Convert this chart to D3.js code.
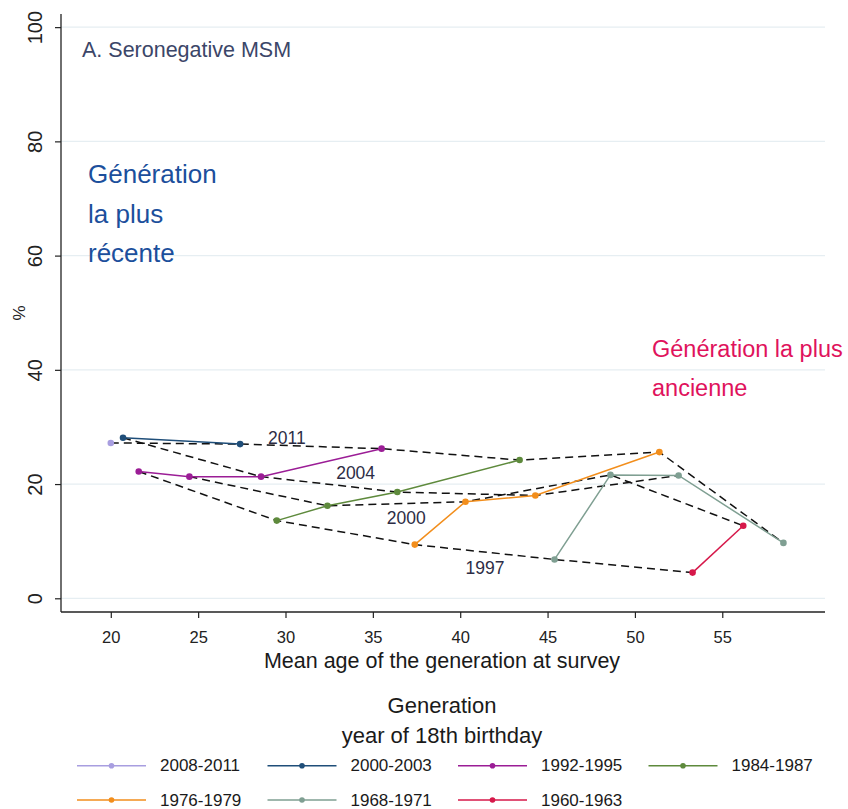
<!DOCTYPE html>
<html>
<head>
<meta charset="utf-8">
<script src="https://cdn.jsdelivr.net/npm/d3@7"></script>
<style>
  body { margin: 0; background: #fff; }
  svg { font-family: "Liberation Sans", Arial, sans-serif; }
</style>
</head>
<body>
<svg id="chart" width="848" height="809"></svg>
<script>
// generations (year of 18th birthday)
const generations = ["2008-2011", "2000-2003", "1992-1995", "1984-1987", "1976-1979", "1968-1971", "1960-1963"];
const genColors = ["#a89ee0", "#1f4e79", "#9b1d96", "#5e8a3c", "#f28e1c", "#7f9f92", "#d6184a"];
// survey year, mean age and % for each generation
const genSurveys = [
    [2011],
    [2004, 2011],
    [1997, 2000, 2004, 2011],
    [1997, 2000, 2004, 2011],
    [1997, 2000, 2004, 2011],
    [1997, 2000, 2004, 2011],
    [1997, 2000]
];
const genAges = [
    [20.0],
    [20.7, 27.4],
    [21.6, 24.5, 28.6, 35.5],
    [29.5, 32.4, 36.4, 43.4],
    [37.4, 40.3, 44.3, 51.4],
    [45.4, 48.6, 52.5, 58.5],
    [53.3, 56.2]
];
const genValues = [
    [27.2],
    [28.1, 27.0],
    [22.2, 21.3, 21.3, 26.2],
    [13.6, 16.2, 18.6, 24.2],
    [9.4, 16.9, 18.0, 25.6],
    [6.8, 21.6, 21.5, 9.7],
    [4.5, 12.7]
];
const surveyYears = [2011, 2004, 2000, 1997];
const xTicks = [20, 25, 30, 35, 40, 45, 50, 55];
const yTicks = [0, 20, 40, 60, 80, 100];

const svg = d3.select("#chart");
const plotLeft = 61, plotRight = 825, plotTop = 14, plotBottom = 612;

const x = d3.scaleLinear().domain([17.15, 60.88]).range([plotLeft, plotRight]);
const y = d3.scaleLinear().domain([-2.4, 102.3]).range([plotBottom, plotTop]);

// gridlines
svg.append("g").selectAll("line")
    .data(yTicks)
    .join("line")
    .attr("x1", plotLeft).attr("x2", plotRight)
    .attr("y1", d => y(d)).attr("y2", d => y(d))
    .attr("stroke", "#e6eef2")
    .attr("stroke-width", 1.2);

// axes
const yAxis = svg.append("g")
    .attr("transform", `translate(${plotLeft},0)`)
    .call(d3.axisLeft(y).tickValues(yTicks).tickSize(6).tickSizeOuter(0));
yAxis.select(".domain").attr("d", `M0,${plotTop}V${plotBottom}`).attr("stroke", "#222").attr("stroke-width", 1.3);
yAxis.selectAll(".tick line").attr("stroke", "#222").attr("stroke-width", 1.2);
yAxis.selectAll(".tick text")
    .attr("x", 0).attr("y", 0).attr("dy", 0)
    .attr("transform", "translate(-19,0) rotate(-90)")
    .attr("text-anchor", "middle")
    .style("font-size", "20px")
    .style("fill", "#222");

const xAxis = svg.append("g")
    .attr("transform", `translate(0,${plotBottom})`)
    .call(d3.axisBottom(x).tickValues(xTicks).tickSize(6).tickSizeOuter(0));
xAxis.select(".domain").attr("d", `M${plotLeft},0H${plotRight}`).attr("stroke", "#222").attr("stroke-width", 1.3);
xAxis.selectAll(".tick line").attr("stroke", "#222").attr("stroke-width", 1.2);
xAxis.selectAll(".tick text")
    .attr("y", 31).attr("dy", 0)
    .style("font-size", "16.5px")
    .style("fill", "#222");

svg.append("text")
    .attr("x", 442).attr("y", 668)
    .attr("text-anchor", "middle")
    .style("font-size", "21.5px")
    .style("fill", "#1a1a1a")
    .text("Mean age of the generation at survey");

svg.append("text")
    .attr("transform", "translate(25,313) rotate(-90)")
    .attr("text-anchor", "middle")
    .style("font-size", "17px")
    .style("fill", "#222")
    .text("%");

// dashed survey lines: same survey year across generations
const line = d3.line().x(d => x(d.age)).y(d => y(d.value));
const points = [];
generations.forEach((g, gi) => {
    genAges[gi].forEach((a, j) => {
        points.push({ gen: g, gi: gi, survey: genSurveys[gi][j], age: a, value: genValues[gi][j] });
    });
});

svg.append("g").selectAll("path")
    .data(surveyYears)
    .join("path")
    .attr("d", s => line(points.filter(p => p.survey === s).sort((a, b) => a.age - b.age)))
    .attr("fill", "none")
    .attr("stroke", "#111")
    .attr("stroke-width", 1.5)
    .attr("stroke-dasharray", "8,5");

// generation lines
const genGroups = svg.append("g").selectAll("g")
    .data(generations)
    .join("g");

genGroups.append("path")
    .attr("d", (g, gi) => line(points.filter(p => p.gi === gi)))
    .attr("fill", "none")
    .attr("stroke", (g, gi) => genColors[gi])
    .attr("stroke-width", 1.5);

svg.append("g").selectAll("circle")
    .data(points)
    .join("circle")
    .attr("cx", d => x(d.age))
    .attr("cy", d => y(d.value))
    .attr("r", 3.3)
    .attr("fill", d => genColors[d.gi]);

// survey year labels
const surveyLabels = [
    { text: "2011", age: 29.0, value: 27.1 },
    { text: "2004", age: 32.9, value: 20.9 },
    { text: "2000", age: 35.8, value: 13.0 },
    { text: "1997", age: 40.3, value: 4.2 }
];
svg.append("g").selectAll("text")
    .data(surveyLabels)
    .join("text")
    .attr("x", d => x(d.age))
    .attr("y", d => y(d.value))
    .style("font-size", "17.5px")
    .style("fill", "#2d2d45")
    .text(d => d.text);

// annotations
svg.append("text")
    .attr("x", 82).attr("y", 56.5)
    .style("font-size", "21.5px")
    .style("fill", "#3b4668")
    .text("A. Seronegative MSM");

svg.append("text")
    .attr("x", 88).attr("y", 183)
    .style("font-size", "26px")
    .style("fill", "#1c4f9c")
    .selectAll("tspan")
    .data(["Génération", "la plus", "récente"])
    .join("tspan")
    .attr("x", 88)
    .attr("dy", (d, i) => i === 0 ? 0 : 39.5)
    .text(d => d);

svg.append("text")
    .attr("x", 652).attr("y", 357)
    .style("font-size", "23.5px")
    .style("fill", "#e0125c")
    .selectAll("tspan")
    .data(["Génération la plus", "ancienne"])
    .join("tspan")
    .attr("x", 652)
    .attr("dy", (d, i) => i === 0 ? 0 : 38.5)
    .text(d => d);

// legend
svg.append("text")
    .attr("x", 442).attr("y", 713)
    .attr("text-anchor", "middle")
    .style("font-size", "22px")
    .style("fill", "#1a1a1a")
    .text("Generation");
svg.append("text")
    .attr("x", 442).attr("y", 743)
    .attr("text-anchor", "middle")
    .style("font-size", "22px")
    .style("fill", "#1a1a1a")
    .text("year of 18th birthday");

const legend = svg.append("g").selectAll("g")
    .data(generations)
    .join("g")
    .attr("transform", (d, i) => `translate(${77 + (i % 4) * 190.5},${765.7 + Math.floor(i / 4) * 34.3})`);

legend.append("line")
    .attr("x1", 0).attr("x2", 69)
    .attr("stroke", (d, i) => genColors[i])
    .attr("stroke-width", 1.6);
legend.append("circle")
    .attr("cx", 34.5).attr("r", 2.8)
    .attr("fill", (d, i) => genColors[i]);
legend.append("text")
    .attr("x", 83).attr("y", 5.5)
    .style("font-size", "17px")
    .style("fill", "#1a1a1a")
    .text(d => d);
</script>
</body>
</html>
